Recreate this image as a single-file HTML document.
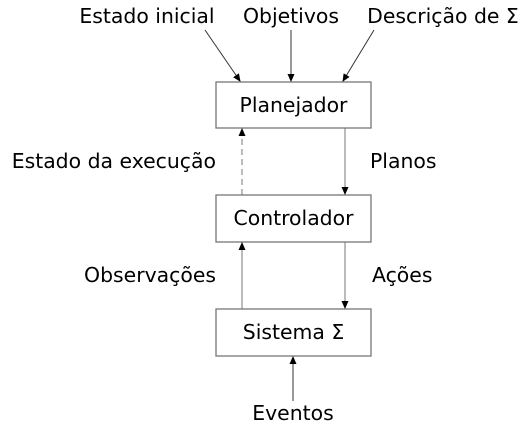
<!DOCTYPE html>
<html><head><meta charset="utf-8"><style>
html,body{margin:0;padding:0;background:#fff;}
svg{display:block;}
text{font-family:"DejaVu Sans",sans-serif;font-size:20.4px;fill:#000;}
</style></head><body>
<svg width="528" height="438" viewBox="0 0 528 438">
<defs><marker id="a" markerWidth="8" markerHeight="8" refX="7" refY="4" orient="auto" markerUnits="userSpaceOnUse"><path d="M0,0.5 L8,4 L0,7.5 z" fill="#000"/></marker></defs>
<g fill="#fff" stroke="#777" stroke-width="1.3">
<rect x="216" y="82" width="155" height="46"/>
<rect x="216" y="195" width="155" height="47"/>
<rect x="216" y="309" width="155" height="47"/>
</g>
<text x="293.5" y="112" text-anchor="middle">Planejador</text>
<text x="293.5" y="225" text-anchor="middle">Controlador</text>
<text x="293.5" y="339" text-anchor="middle">Sistema Σ</text>
<text x="147" y="23" text-anchor="middle">Estado inicial</text>
<text x="291" y="23" text-anchor="middle">Objetivos</text>
<text x="443" y="23" text-anchor="middle">Descrição de Σ</text>
<text x="216" y="168" text-anchor="end">Estado da execução</text>
<text x="370" y="168">Planos</text>
<text x="216" y="282" text-anchor="end">Observações</text>
<text x="372" y="282">Ações</text>
<text x="293" y="420" text-anchor="middle">Eventos</text>
<g stroke="#333" stroke-width="1" fill="none">
<line x1="205" y1="30" x2="240" y2="81" marker-end="url(#a)"/>
<line x1="291" y1="30" x2="291" y2="81" marker-end="url(#a)"/>
<line x1="374" y1="30" x2="343" y2="81" marker-end="url(#a)"/>
<line x1="345" y1="128" x2="345" y2="194" stroke="#777" marker-end="url(#a)"/>
<line x1="242" y1="195" x2="242" y2="129" stroke="#777" stroke-dasharray="6,4" marker-end="url(#a)"/>
<line x1="345" y1="242" x2="345" y2="308" stroke="#777" marker-end="url(#a)"/>
<line x1="242" y1="309" x2="242" y2="243" stroke="#777" marker-end="url(#a)"/>
<line x1="293" y1="401" x2="293" y2="357" marker-end="url(#a)"/>
</g>
</svg>
</body></html>
